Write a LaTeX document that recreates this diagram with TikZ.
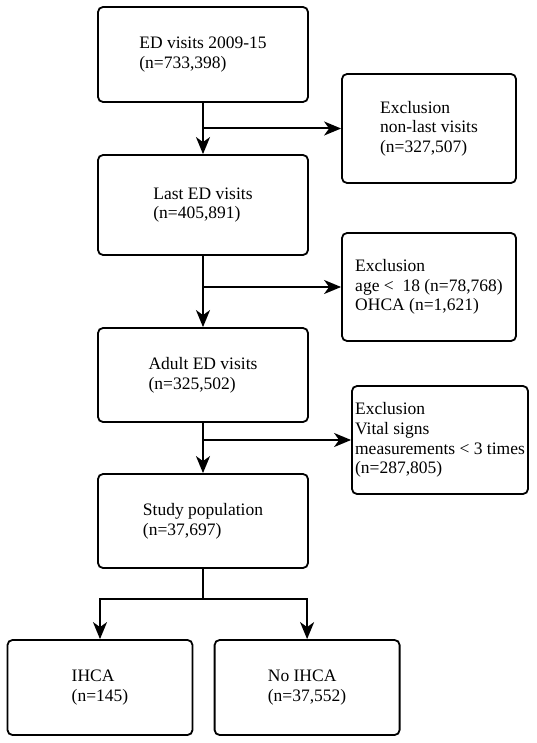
\documentclass[tikz,border=0pt]{standalone}
\usepackage{fontspec}
\setmainfont{Liberation Serif}
\usetikzlibrary{arrows.meta,calc}
\begin{document}
\begin{tikzpicture}[x=1pt,y=-1pt,
  box/.style={draw, line width=1.8pt, rounded corners=5pt, align=left, inner sep=0pt,
    font=\fontsize{17.5}{19.7}\selectfont},
  arr/.style={line width=2pt, -{Stealth[length=17pt,width=14pt,inset=5pt]}},
  ln/.style={line width=2pt}]
\useasboundingbox (0,0) rectangle (536,743);
\node[box, minimum width=210pt, minimum height=95pt] (n1) at (203,54.5) {ED visits 2009-15\\(n=733,398)};
\node[box, minimum width=210pt, minimum height=100pt] (n2) at (203,205) {Last ED visits\\(n=405,891)};
\node[box, minimum width=210pt, minimum height=94pt] (n3) at (203,375) {Adult ED visits\\(n=325,502)};
\node[box, minimum width=210pt, minimum height=94pt] (n4) at (203,521) {Study population\\(n=37,697)};
\node[box, minimum width=185pt, minimum height=95pt] (ihca) at (100,687.5) {IHCA\\(n=145)};
\node[box, minimum width=185pt, minimum height=95pt] (noihca) at (307.1,687.5) {No IHCA\\(n=37,552)};
\node[box, minimum width=174pt, minimum height=109pt] (e1) at (429,128.5) {Exclusion\\non-last visits\\(n=327,507)};
\node[box, minimum width=174pt, minimum height=108pt] (e2) at (429,287) {Exclusion\\age <\ \ 18 (n=78,768)\\OHCA (n=1,621)};
\node[box, minimum width=176pt, minimum height=108pt] (e3) at (440,440) {Exclusion\\Vital signs\\measurements < 3 times\\(n=287,805)};
\draw[arr] (n1.south) -- (n2.north);
\coordinate (b1) at (n1.south |- e1.west);
\draw[arr] (b1) -- (e1.west);
\draw[arr] (n2.south) -- (n3.north);
\coordinate (b2) at (n2.south |- e2.west);
\draw[arr] (b2) -- (e2.west);
\draw[arr] (n3.south) -- (n4.north);
\coordinate (b3) at (n3.south |- e3.west);
\draw[arr] (b3) -- (e3.west);
\coordinate (s) at ($(n4.south)+(0,30)$);
\draw[ln] (n4.south) -- (s);
\draw[arr] (s) -| (ihca.north);
\draw[arr] (s) -| (noihca.north);
\end{tikzpicture}
\end{document}
